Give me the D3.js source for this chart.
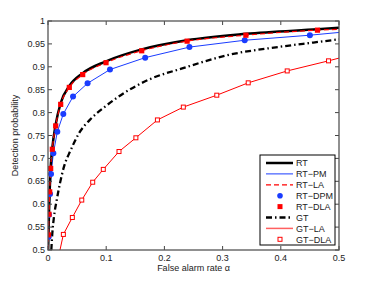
<!DOCTYPE html>
<html>
<head>
<meta charset="utf-8">
<script src="https://cdn.jsdelivr.net/npm/d3@7"></script>
<style>
  body { margin: 0; background: #fff; }
  svg { display: block; font-family: "Liberation Sans", Arial, sans-serif; }
</style>
</head>
<body>
<svg id="chart" width="374" height="281"></svg>
<script>
// values (false alarm rate, detection probability)
const rtX   = [0.0003, 0.0008, 0.0017, 0.0029, 0.0046, 0.0074, 0.0132, 0.0218, 0.0366, 0.0596, 0.0997, 0.161, 0.239, 0.340, 0.463, 0.5];
const rtY   = [0.5, 0.535, 0.581, 0.630, 0.681, 0.723, 0.774, 0.821, 0.858, 0.886, 0.912, 0.938, 0.958, 0.972, 0.982, 0.985];
const laY   = [0.5, 0.533, 0.578, 0.627, 0.678, 0.720, 0.771, 0.818, 0.855, 0.883, 0.909, 0.935, 0.956, 0.969, 0.980, 0.982];
const dlaX  = [0.0008, 0.0017, 0.0029, 0.0046, 0.0074, 0.0132, 0.0218, 0.0366, 0.0596, 0.0997, 0.161, 0.239, 0.340, 0.463];
const dlaY  = [0.533, 0.578, 0.627, 0.678, 0.720, 0.771, 0.818, 0.855, 0.883, 0.909, 0.935, 0.956, 0.969, 0.980];
const dpmX  = [0.0012, 0.0017, 0.0035, 0.0052, 0.0092, 0.0160, 0.0263, 0.0430, 0.068, 0.1065, 0.167, 0.243, 0.338, 0.450];
const dpmY  = [0.529, 0.577, 0.622, 0.666, 0.711, 0.758, 0.797, 0.835, 0.864, 0.894, 0.920, 0.943, 0.958, 0.969];
const gtX   = [0.0057, 0.0074, 0.0103, 0.015, 0.0206, 0.0275, 0.039, 0.0533, 0.0733, 0.1, 0.125, 0.175, 0.232, 0.307, 0.4, 0.456, 0.5];
const gtY   = [0.5, 0.536, 0.573, 0.609, 0.646, 0.682, 0.718, 0.755, 0.786, 0.815, 0.838, 0.873, 0.897, 0.925, 0.944, 0.953, 0.96];
const gdlaX = [0.0264, 0.0418, 0.058, 0.0768, 0.095, 0.122, 0.151, 0.188, 0.2325, 0.29, 0.344, 0.411, 0.482];
const gdlaY = [0.534, 0.571, 0.609, 0.648, 0.676, 0.715, 0.745, 0.784, 0.812, 0.838, 0.865, 0.891, 0.913];
const xTicks = [0, 0.1, 0.2, 0.3, 0.4, 0.5];
const yTicks = [0.5, 0.55, 0.6, 0.65, 0.7, 0.75, 0.8, 0.85, 0.9, 0.95, 1];
const legendNames = ["RT", "RT\u2212PM", "RT\u2212LA", "RT\u2212DPM", "RT\u2212DLA", "GT", "GT\u2212LA", "GT\u2212DLA"];

const zip = (xs, ys) => xs.map((x, i) => [x, ys[i]]);
const rt = zip(rtX, rtY), rtla = zip(rtX, laY);
const dla = zip(dlaX, dlaY), dpm = zip(dpmX, dpmY);
const rtpm = [[0.0004, 0.5]].concat(dpm, [[0.5, 0.975]]);
const gt = zip(gtX, gtY), gdla = zip(gdlaX, gdlaY);
const gtla = [[0.0206, 0.5]].concat(gdla, [[0.5, 0.919]]);

const svg = d3.select("#chart");
const L = 48, R = 339, T = 21, B = 250;
const x = d3.scaleLinear().domain([0, 0.5]).range([L, R]);
const y = d3.scaleLinear().domain([0.5, 1]).range([B, T]);

svg.append("clipPath").attr("id", "clip")
  .append("rect").attr("x", L).attr("y", T).attr("width", R - L).attr("height", B - T);

const plot = svg.append("g").attr("clip-path", "url(#clip)");
const smooth = d3.line().x(d => x(d[0])).y(d => y(d[1])).curve(d3.curveMonotoneX);
const straight = d3.line().x(d => x(d[0])).y(d => y(d[1]));

const BLUE = "#1a3cff", RED = "#ff0000";

// GT family
plot.append("path").attr("d", smooth(gt)).attr("fill", "none")
  .attr("stroke", "#000").attr("stroke-width", 2.3).attr("stroke-dasharray", "6,3,1.5,3");
plot.append("path").attr("d", straight(gtla)).attr("fill", "none")
  .attr("stroke", RED).attr("stroke-width", 1);
plot.selectAll(".gdla").data(gdla).enter().append("rect")
  .attr("x", d => x(d[0]) - 2).attr("y", d => y(d[1]) - 2)
  .attr("width", 4).attr("height", 4)
  .attr("fill", "#fff").attr("stroke", RED).attr("stroke-width", 1);

// RT family
plot.append("path").attr("d", straight(rtpm)).attr("fill", "none")
  .attr("stroke", BLUE).attr("stroke-width", 1);
plot.append("path").attr("d", smooth(rt)).attr("fill", "none")
  .attr("stroke", "#000").attr("stroke-width", 2.5);
plot.append("path").attr("d", smooth(rtla)).attr("fill", "none")
  .attr("stroke", RED).attr("stroke-width", 1.2).attr("stroke-dasharray", "5,3");
plot.selectAll(".dpm").data(dpm).enter().append("circle")
  .attr("cx", d => x(d[0])).attr("cy", d => y(d[1])).attr("r", 3)
  .attr("fill", BLUE);
plot.selectAll(".dla").data(dla).enter().append("rect")
  .attr("x", d => x(d[0]) - 2.6).attr("y", d => y(d[1]) - 2.6)
  .attr("width", 5.2).attr("height", 5.2).attr("fill", RED);

// axes box with inward ticks
const tk = 4;
const ax = svg.append("g").attr("stroke", "#444").attr("stroke-width", 1);
xTicks.forEach(t => {
  ax.append("line").attr("x1", x(t)).attr("x2", x(t)).attr("y1", B).attr("y2", B - tk);
  ax.append("line").attr("x1", x(t)).attr("x2", x(t)).attr("y1", T).attr("y2", T + tk);
});
yTicks.forEach(t => {
  ax.append("line").attr("x1", L).attr("x2", L + tk).attr("y1", y(t)).attr("y2", y(t));
  ax.append("line").attr("x1", R).attr("x2", R - tk).attr("y1", y(t)).attr("y2", y(t));
});
svg.append("rect").attr("x", L).attr("y", T).attr("width", R - L).attr("height", B - T)
  .attr("fill", "none").attr("stroke", "#555").attr("stroke-width", 1.3);

svg.selectAll(".xt").data(xTicks).enter().append("text")
  .attr("x", d => x(d)).attr("y", B + 11).attr("text-anchor", "middle")
  .attr("font-size", 9).attr("fill", "#222").text(d => d);
svg.selectAll(".yt").data(yTicks).enter().append("text")
  .attr("x", L - 3).attr("y", d => y(d) + 3).attr("text-anchor", "end")
  .attr("font-size", 9).attr("fill", "#222").text(d => d);

svg.append("text").attr("x", (L + R) / 2).attr("y", 271).attr("text-anchor", "middle")
  .attr("font-size", 9).attr("fill", "#222").text("False alarm rate \u03b1");
svg.append("text").attr("transform", `translate(18,${(T + B) / 2}) rotate(-90)`)
  .attr("text-anchor", "middle").attr("font-size", 9).attr("fill", "#222")
  .text("Detection probability");

// legend
const lg = svg.append("g").attr("transform", "translate(260,155)");
lg.append("rect").attr("width", 75).attr("height", 90)
  .attr("fill", "#fff").attr("stroke", "#000").attr("stroke-width", 1);
const styles = [
  { stroke: "#000", w: 2.5 },
  { stroke: BLUE, w: 1 },
  { stroke: RED, w: 1.2, dash: "5,3" },
  { mark: "dot" },
  { mark: "sq" },
  { stroke: "#000", w: 2.3, dash: "6,3,1.5,3" },
  { stroke: "#ff6060", w: 1.5 },
  { mark: "osq" }
];
legendNames.forEach((name, i) => {
  const cy = 8 + i * 10.9;
  const s = styles[i];
  if (s.stroke) {
    lg.append("line").attr("x1", 6).attr("x2", 33).attr("y1", cy).attr("y2", cy)
      .attr("stroke", s.stroke).attr("stroke-width", s.w)
      .attr("stroke-dasharray", s.dash || null);
  } else if (s.mark === "dot") {
    lg.append("circle").attr("cx", 20).attr("cy", cy).attr("r", 2.8).attr("fill", BLUE);
  } else if (s.mark === "sq") {
    lg.append("rect").attr("x", 17.5).attr("y", cy - 2.5).attr("width", 5).attr("height", 5).attr("fill", RED);
  } else {
    lg.append("rect").attr("x", 18).attr("y", cy - 2).attr("width", 4).attr("height", 4)
      .attr("fill", "#fff").attr("stroke", RED);
  }
  lg.append("text").attr("x", 36).attr("y", cy + 3.2).attr("font-size", 9)
    .attr("fill", "#222").text(name);
});
</script>
</body>
</html>
